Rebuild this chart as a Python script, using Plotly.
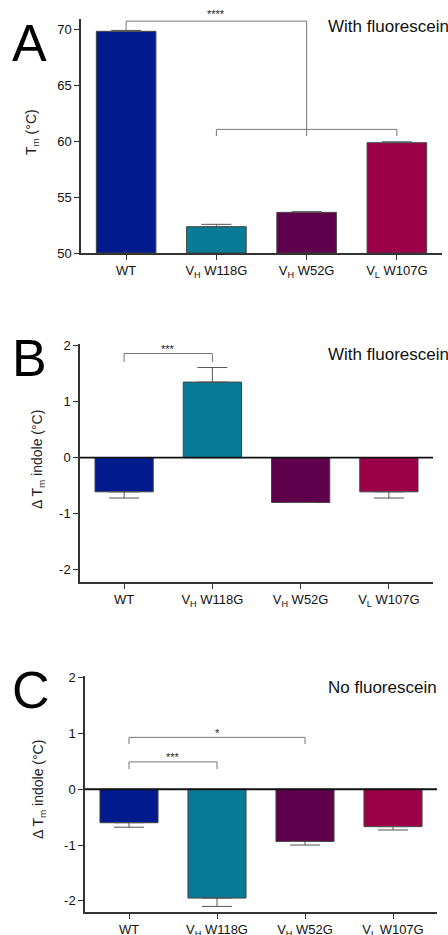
import plotly.graph_objects as go

categories = ["WT", "V<sub>H</sub> W118G", "V<sub>H</sub> W52G", "V<sub>L</sub> W107G"]
colors = ["#011B8E", "#087C96", "#5F004C", "#9C0048"]

tm_A = [69.8, 52.35, 53.63, 59.85]
err_A = [0.08, 0.21, 0.06, 0.08]

dtm_B = [-0.61, 1.35, -0.80, -0.61]
err_B = [0.11, 0.26, 0.0, 0.11]

dtm_C = [-0.60, -1.95, -0.935, -0.67]
err_C = [0.08, 0.15, 0.065, 0.06]

ticks_A = [50, 55, 60, 65, 70]
ticks_BC = [-2, -1, 0, 1, 2]

W, H = 448, 935
def px_x(a, b):
    return [a / W, b / W]
def px_y(top, bot):
    return [1 - bot / H, 1 - top / H]

panels = [
    dict(vals=tm_A, errs=err_A, xd=px_x(81, 442), yd=px_y(19, 253), rng=[50, 70.9],
         ticks=ticks_A, letter="A", note="With fluorescein", letter_y=12, note_y=26,
         ytitle="T<sub>m</sub> (°C)", zero=False),
    dict(vals=dtm_B, errs=err_B, xd=px_x(80, 433), yd=px_y(344, 582), rng=[-2.22, 2.03],
         ticks=ticks_BC, letter="B", note="With fluorescein", letter_y=327, note_y=355,
         ytitle="Δ T<sub>m</sub> indole (°C)", zero=True),
    dict(vals=dtm_C, errs=err_C, xd=px_x(85, 437), yd=px_y(676, 912), rng=[-2.2, 2.03],
         ticks=ticks_BC, letter="C", note="No fluorescein", letter_y=659, note_y=687,
         ytitle="Δ T<sub>m</sub> indole (°C)", zero=True),
]

fig = go.Figure()
axis_color = "#333333"
font = "Liberation Sans, Arial, sans-serif"
annotations = []
shapes = []

for i, p in enumerate(panels):
    n = "" if i == 0 else str(i + 1)
    xa, ya = "x" + n, "y" + n
    up = [e if v >= 0 else 0 for v, e in zip(p["vals"], p["errs"])]
    dn = [e if v < 0 else 0 for v, e in zip(p["vals"], p["errs"])]
    base = p["rng"][0] if not p["zero"] else 0
    fig.add_trace(go.Bar(
        x=categories, y=[v - base for v in p["vals"]], base=base,
        marker=dict(color=colors, line=dict(color="#444444", width=1)),
        width=0.66,
        error_y=dict(type="data", symmetric=False, array=up, arrayminus=dn,
                     color="#555555", thickness=1, width=15),
        xaxis=xa, yaxis=ya, showlegend=False, hoverinfo="skip",
    ))
    fig.update_layout(**{
        ("xaxis" + n): dict(domain=p["xd"], anchor=ya, range=[-0.5, 3.5],
                            showline=True, linecolor=axis_color, linewidth=1.5,
                            ticks="outside", ticklen=5, tickcolor=axis_color,
                            tickfont=dict(size=13, color="#111", family=font),
                            showgrid=False, zeroline=False, fixedrange=True,
                            automargin=False),
        ("yaxis" + n): dict(domain=p["yd"], anchor=xa, range=p["rng"],
                            tickvals=p["ticks"], ticktext=[str(t) for t in p["ticks"]],
                            showline=True, linecolor=axis_color,
                            linewidth=1.5, ticks="outside", ticklen=5,
                            tickcolor=axis_color,
                            tickfont=dict(size=13, color="#111", family=font),
                            showgrid=False, zeroline=False, automargin=False),
    })
    if p["zero"]:
        shapes.append(dict(type="line", xref=xa + " domain", yref=ya, x0=0, x1=1,
                           y0=0, y1=0, line=dict(color="#111", width=1.8)))
    annotations.append(dict(text=p["letter"], xref="paper", yref="paper",
                            x=10 / W, y=1 - p["letter_y"] / H, xanchor="left", yanchor="top",
                            showarrow=False, font=dict(size=52, color="#000", family=font)))
    annotations.append(dict(text=p["note"], xref="paper", yref="paper",
                            x=326 / W, y=1 - p["note_y"] / H, xanchor="left", yanchor="middle",
                            showarrow=False, font=dict(size=17, color="#111", family=font)))

# y titles
for p, xc, yc in [(panels[0], 32, 132), (panels[1], 38, 460), (panels[2], 39, 790)]:
    annotations.append(dict(text=p["ytitle"], xref="paper", yref="paper",
                            x=xc / W, y=1 - yc / H, xanchor="center", yanchor="middle",
                            textangle=-90, showarrow=False,
                            font=dict(size=14, color="#222", family=font)))

bracket_color = "#777777"
def bracket(xa, ya, x0, x1, y, l0, l1, stars, star_y):
    shapes.append(dict(type="path", xref=xa, yref=ya,
                       path=f"M {x0},{l0} L {x0},{y} L {x1},{y} L {x1},{l1}",
                       line=dict(color=bracket_color, width=1)))
    if stars:
        annotations.append(dict(text=stars, xref=xa, yref=ya, x=(x0 + x1) / 2, y=star_y,
                                showarrow=False, yanchor="bottom",
                                font=dict(size=11, color="#222", family=font)))

# Panel A brackets
bracket("x", "y", 0, 2, 70.71, 69.9, 60.45, "****", 70.65)
bracket("x", "y", 1, 3, 61.04, 60.45, 60.45, "", 0)
# Panel B
bracket("x2", "y2", 0, 1, 1.86, 1.71, 1.71, "***", 1.8)
# Panel C
bracket("x3", "y3", 0, 2, 0.93, 0.81, 0.81, "*", 0.87)
bracket("x3", "y3", 0, 1, 0.49, 0.36, 0.36, "***", 0.43)

fig.update_layout(width=W, height=H, margin=dict(l=0, r=0, t=0, b=0),
                  paper_bgcolor="white", plot_bgcolor="white",
                  annotations=annotations, shapes=shapes, bargap=0.34,
                  font=dict(family=font))

fig.write_html("out.html", config={"displayModeBar": False})
with open("out.html", "r", encoding="utf-8") as f:
    html = f.read()
html = html.replace("<head>", "<head><style>html,body{margin:0;padding:0;overflow:hidden;}</style>", 1)
with open("out.html", "w", encoding="utf-8") as f:
    f.write(html)
